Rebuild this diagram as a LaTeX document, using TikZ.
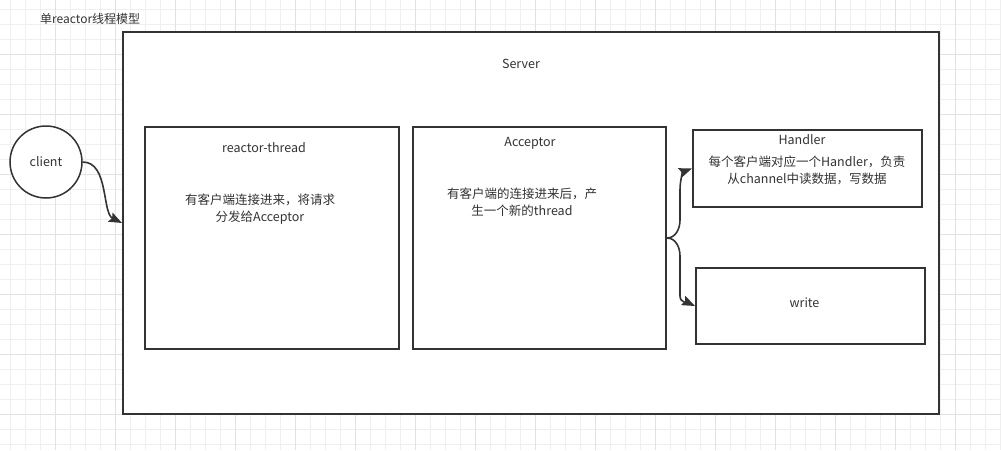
\documentclass[tikz,border=0pt]{standalone}
\usepackage{fontspec}
\setmainfont{Noto Sans CJK SC}
\usetikzlibrary{arrows.meta}

\definecolor{gridminor}{HTML}{EFEFEF}
\definecolor{gridmajor}{HTML}{E2E2E2}
\definecolor{ink}{HTML}{333333}

\begin{document}
\begin{tikzpicture}[x=1pt, y=1pt,
  box/.style={draw=ink, line width=2pt, fill=white, inner sep=0pt},
  lbl/.style={text=ink, font=\fontsize{12.5}{17}\selectfont, align=center, inner sep=0pt},
  conn/.style={draw=ink, line width=1.6pt, -{Stealth[length=13pt, width=10pt, inset=2pt]}}]
\useasboundingbox (0,0) rectangle (1001,-450);

% Draw the background grid
\fill[white] (0,0) rectangle (1001,-450);
\foreach \gx in {10,25,...,1000}
  \draw[gridminor, line width=1pt] (\gx,0) -- (\gx,-450);
\foreach \gy in {9.5,24.5,...,449}
  \draw[gridminor, line width=1pt] (0,-\gy) -- (1001,-\gy);
\foreach \gx in {55,115,...,1000}
  \draw[gridmajor, line width=1pt] (\gx,0) -- (\gx,-450);
\foreach \gy in {54.5,114.5,...,449}
  \draw[gridmajor, line width=1pt] (0,-\gy) -- (1001,-\gy);

% Title of the diagram
\node[lbl, anchor=west, font=\fontsize{12}{14}\selectfont] (title) at (40,-19) {单reactor线程模型};

% Draw the server frame
\node[box, minimum width=816pt, minimum height=382pt] (server) at (531,-223) {};
\node[lbl] (serverlbl) at (521,-64) {Server};

% Draw the client
\node[draw=ink, line width=1.5pt, fill=white, circle, minimum size=72pt, inner sep=0pt,
      text=ink, font=\fontsize{12.5}{15}\selectfont] (client) at (46,-162) {client};

% Draw the inner boxes
\node[box, minimum width=254pt, minimum height=222pt] (reactor) at (272,-238) {};
\node[box, minimum width=253pt, minimum height=222pt] (acceptor) at (539.5,-238) {};
\node[box, minimum width=229pt, minimum height=77pt] (handler) at (807.5,-168.5) {};
\node[box, minimum width=229pt, minimum height=76pt] (write) at (810.5,-306) {};

% Label the boxes
\node[lbl] (reactorlbl) at (264,-148) {reactor-thread};
\node[lbl] (reactortxt) at (260,-209.5) {有客户端连接进来，将请求\\分发给Acceptor};
\node[lbl] (acceptorlbl) at (530,-143) {Acceptor};
\node[lbl] (acceptortxt) at (522,-202.5) {有客户端的连接进来后，产\\生一个新的thread};
\node[lbl] (handlerlbl) at (802,-140) {Handler};
\node[lbl] (handlertxt) at (807,-170.5) {每个客户端对应一个Handler，负责\\从channel中读数据，写数据};
\node[lbl] (writelbl) at (804.5,-302.5) {write};

% Draw the connectors
\draw[conn] (client.east) .. controls +(26,0) and +(-20,10) .. (server.west);
\draw[conn] (acceptor.east) to[out=0, in=-90] ++(13,18) -- ++(0,30) to[out=90, in=200] (handler.west);
\draw[conn] (acceptor.east) to[out=0, in=90] ++(13,-18) -- ++(0,-40) to[out=-90, in=155] (write.west);
\end{tikzpicture}
\end{document}
